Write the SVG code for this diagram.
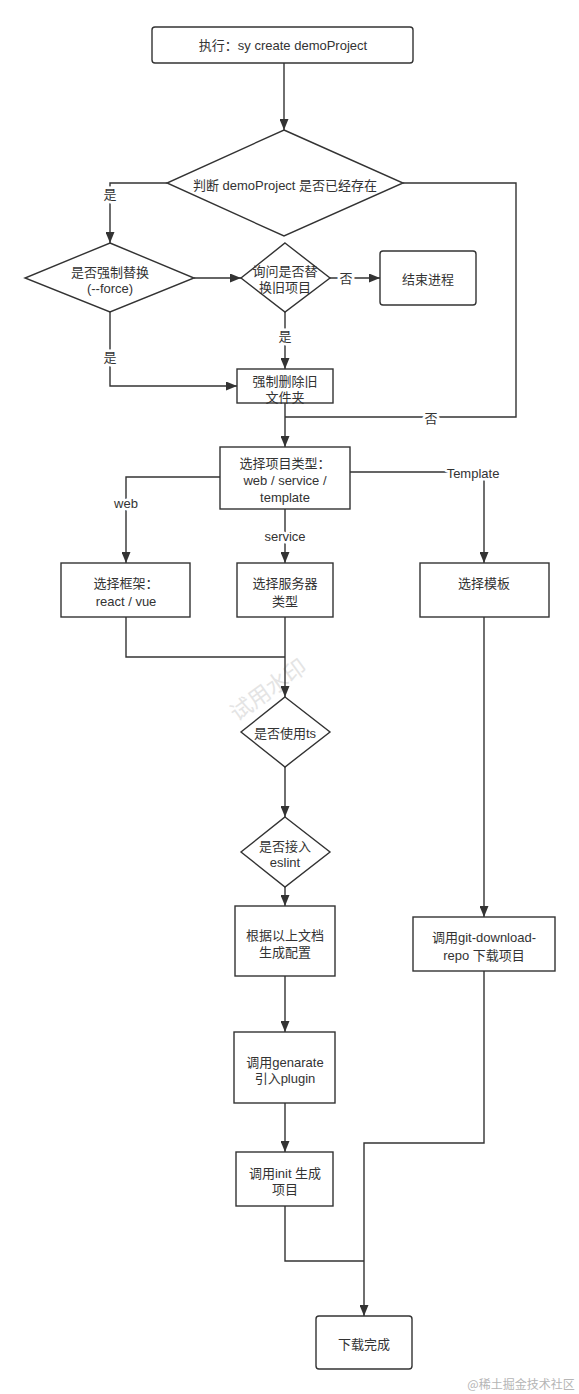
<svg xmlns="http://www.w3.org/2000/svg" width="579" height="1394" viewBox="0 0 579 1394">
<style>
.n{fill:#fff;stroke:#333;stroke-width:1.4}
.t{font-family:"Liberation Sans","Noto Sans CJK SC",sans-serif;font-size:13px;fill:#333;text-anchor:middle;dominant-baseline:central}
.c{fill:none;stroke:#333;stroke-width:1.4}
.l{font-family:"Liberation Sans","Noto Sans CJK SC",sans-serif;font-size:13px;fill:#333;text-anchor:middle;dominant-baseline:central;paint-order:stroke;stroke:#fff;stroke-width:5px;stroke-linejoin:round}
.wm{font-family:"Noto Sans CJK SC",sans-serif;fill:#e4e4e4;text-anchor:middle;dominant-baseline:central}
</style>
<defs>
<marker id="a" markerUnits="userSpaceOnUse" markerWidth="11" markerHeight="9" refX="11" refY="4.5" orient="auto">
<path d="M0,0 L11,4.5 L0,9 z" fill="#333"/>
</marker>
</defs>
<rect width="579" height="1394" fill="#fff"/>
<text class="wm" x="267" y="688" font-size="22" transform="rotate(-36 267 688)">试用水印</text>
<g id="connectors">
<path class="c" d="M284,63 V130" marker-end="url(#a)"/>
<path class="c" d="M167,183 H110 V243" marker-end="url(#a)"/>
<path class="c" d="M403,183 H516 V417 H285"/>
<path class="c" d="M194,278 H241" marker-end="url(#a)"/>
<path class="c" d="M330,278 H380" marker-end="url(#a)"/>
<path class="c" d="M285,312 V369" marker-end="url(#a)"/>
<path class="c" d="M110,312 V386 H237" marker-end="url(#a)"/>
<path class="c" d="M285,403 V447" marker-end="url(#a)"/>
<path class="c" d="M220,477 H126 V563" marker-end="url(#a)"/>
<path class="c" d="M285,509 V563" marker-end="url(#a)"/>
<path class="c" d="M350,472 H484 V563" marker-end="url(#a)"/>
<path class="c" d="M126,617 V657 H285"/>
<path class="c" d="M285,617 V697" marker-end="url(#a)"/>
<path class="c" d="M285,767 V817" marker-end="url(#a)"/>
<path class="c" d="M285,887 V906" marker-end="url(#a)"/>
<path class="c" d="M484,617 V917" marker-end="url(#a)"/>
<path class="c" d="M285,976 V1032" marker-end="url(#a)"/>
<path class="c" d="M285,1103 V1152" marker-end="url(#a)"/>
<path class="c" d="M285,1206 V1261 H364"/>
<path class="c" d="M484,971 V1143 H364 V1316" marker-end="url(#a)"/>
<text class="l" x="110" y="194">是</text>
<text class="l" x="431" y="418">否</text>
<text class="l" x="346" y="278">否</text>
<text class="l" x="285" y="336">是</text>
<text class="l" x="110" y="357">是</text>
<text class="l" x="126" y="503">web</text>
<text class="l" x="285" y="536">service</text>
<text class="l" x="473" y="473">Template</text>
</g>
<g id="n-start"><rect class="n" x="152" y="27" width="261" height="36" rx="3"/><text class="t" x="283" y="45">执行：sy create demoProject</text></g>
<g id="n-exist"><polygon class="n" points="284,130 403,183 284,236 167,183"/><text class="t" x="285" y="185">判断 demoProject 是否已经存在</text></g>
<g id="n-force"><polygon class="n" points="110,243 194,278 110,312 25,278"/><text class="t" x="110" y="272">是否强制替换</text><text class="t" x="110" y="288">(--force)</text></g>
<g id="n-ask"><polygon class="n" points="285,243 330,278 285,312 241,278"/><text class="t" x="285" y="271">询问是否替</text><text class="t" x="285" y="287">换旧项目</text></g>
<g id="n-end"><rect class="n" x="380" y="251" width="96" height="54" rx="3"/><text class="t" x="428" y="279">结束进程</text></g>
<g id="n-delete"><rect class="n" x="237" y="369" width="96" height="34"/><text class="t" x="285" y="381">强制删除旧</text><text class="t" x="285" y="397">文件夹</text></g>
<g id="n-type"><rect class="n" x="220" y="447" width="130" height="62"/><text class="t" x="285" y="463">选择项目类型：</text><text class="t" x="285" y="480">web / service /</text><text class="t" x="285" y="497">template</text></g>
<g id="n-frame"><rect class="n" x="61" y="563" width="129" height="54"/><text class="t" x="126" y="583">选择框架：</text><text class="t" x="126" y="601">react / vue</text></g>
<g id="n-server"><rect class="n" x="237" y="563" width="96" height="54"/><text class="t" x="285" y="583">选择服务器</text><text class="t" x="285" y="601">类型</text></g>
<g id="n-template"><rect class="n" x="420" y="563" width="129" height="54"/><text class="t" x="484" y="583">选择模板</text></g>
<g id="n-ts"><polygon class="n" points="285,697 330,732 285,767 241,732"/><text class="t" x="285" y="733">是否使用ts</text></g>
<g id="n-eslint"><polygon class="n" points="285,817 330,852 285,887 241,852"/><text class="t" x="285" y="846">是否接入</text><text class="t" x="285" y="862">eslint</text></g>
<g id="n-config"><rect class="n" x="235" y="906" width="100" height="70"/><text class="t" x="285" y="935">根据以上文档</text><text class="t" x="285" y="952">生成配置</text></g>
<g id="n-git"><rect class="n" x="413" y="917" width="142" height="54"/><text class="t" x="484" y="937">调用git-download-</text><text class="t" x="484" y="955">repo 下载项目</text></g>
<g id="n-genarate"><rect class="n" x="234" y="1032" width="101" height="71"/><text class="t" x="285" y="1062">调用genarate</text><text class="t" x="285" y="1078">引入plugin</text></g>
<g id="n-init"><rect class="n" x="236" y="1152" width="97" height="54"/><text class="t" x="285" y="1173">调用init 生成</text><text class="t" x="285" y="1189">项目</text></g>
<g id="n-done"><rect class="n" x="316" y="1316" width="96" height="53" rx="3"/><text class="t" x="364" y="1344">下载完成</text></g>
<text x="521" y="1383" font-family="Noto Sans CJK SC,sans-serif" font-size="12" fill="#b5b5b5" text-anchor="middle" dominant-baseline="central">@稀土掘金技术社区</text>
</svg>
